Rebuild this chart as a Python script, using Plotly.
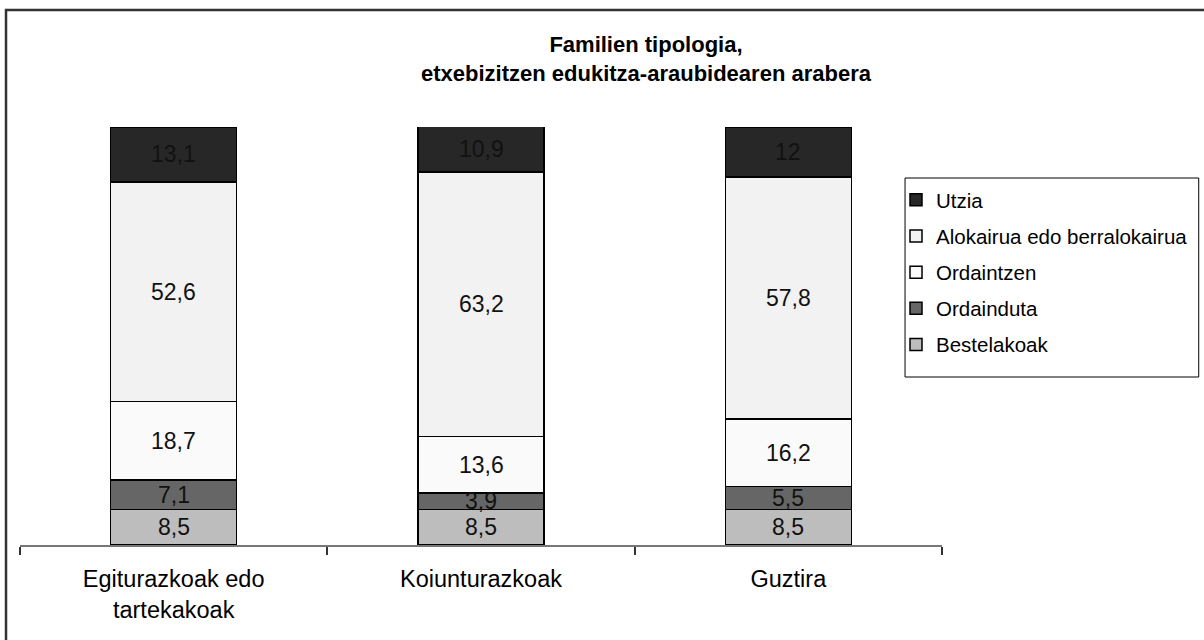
import plotly.graph_objects as go

categories = ["Egiturazkoak edo<br>tartekakoak", "Koiunturazkoak", "Guztira"]
series_names = ["Bestelakoak", "Ordainduta", "Ordaintzen", "Alokairua edo berralokairua", "Utzia"]
bestelakoak = [8.5, 8.5, 8.5]
ordainduta = [7.1, 3.9, 5.5]
ordaintzen = [18.7, 13.6, 16.2]
alokairua = [52.6, 63.2, 57.8]
utzia = [13.1, 10.9, 12]
series_values = [bestelakoak, ordainduta, ordaintzen, alokairua, utzia]
legend_ranks = [5, 4, 3, 2, 1]
colors = ["#bdbdbd", "#666666", "#fafafa", "#f2f2f2", "#272727"]

FONT = "Liberation Sans, Arial, sans-serif"

fig = go.Figure()
for name, vals, col, rank in zip(series_names, series_values, colors, legend_ranks):
    fig.add_trace(go.Bar(
        x=categories, y=vals, name=name, width=0.41,
        marker=dict(color=col, line=dict(color="#000000", width=1.5)),
        legendgroup=name, legendrank=rank,
    ))

def fmt(v):
    return f"{v:g}".replace(".", ",")

annotations = []
base = [0.0] * len(categories)
for vals in series_values:
    for i, v in enumerate(vals):
        annotations.append(dict(
            x=categories[i], y=base[i] + v / 2, xref="x", yref="y",
            text=fmt(v), showarrow=False,
            font=dict(family=FONT, size=23, color="#111111"),
        ))
        base[i] += v

annotations.append(dict(
    x=0.6795, y=1.1615, xref="paper", yref="paper",
    text="<b>Familien tipologia,<br>etxebizitzen edukitza-araubidearen arabera</b>",
    showarrow=False, xanchor="center", yanchor="middle",
    font=dict(family=FONT, size=22, color="#000000"),
))

shapes = [
    dict(type="rect", xref="paper", yref="paper",
         x0=(6 - 20) / 923, x1=1.4, y0=-0.5, y1=(545 - 10) / 418,
         line=dict(color="#333333", width=2.5)),
    dict(type="rect", xref="paper", yref="paper",
         x0=(906 - 20) / 923, x1=(1200 - 20) / 923,
         y0=(545 - 377) / 418, y1=(545 - 178) / 418,
         line=dict(color="#000000", width=1)),
]

fig.update_layout(
    width=1204, height=640,
    margin=dict(l=20, r=261, t=127, b=95),
    paper_bgcolor="white", plot_bgcolor="white",
    barmode="stack",
    showlegend=True,
    legend=dict(
        x=(896 - 20) / 923, y=(545 - 180) / 418, xanchor="left", yanchor="top",
        traceorder="grouped", tracegroupgap=6.5,
        font=dict(family=FONT, size=20.5, color="#000000"),
        bgcolor="rgba(0,0,0,0)", borderwidth=0, itemwidth=30,
    ),
    xaxis=dict(
        showline=True, linecolor="#777777", linewidth=1.5,
        ticks="outside", tickson="boundaries", ticklen=8, tickcolor="#333333", tickwidth=1.5,
        tickfont=dict(family=FONT, size=23.5, color="#000000"),
        ticklabelstandoff=12,
        showgrid=False,
    ),
    yaxis=dict(range=[0, 100], visible=False, showgrid=False),
    annotations=annotations,
    shapes=shapes,
    font=dict(family=FONT),
)

fig.write_html("out.html", config={"displayModeBar": False},
               post_script="document.body.style.margin='0';")
